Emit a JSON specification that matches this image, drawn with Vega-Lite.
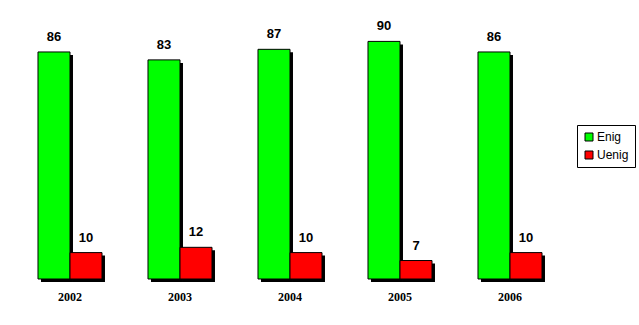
{
  "$schema": "https://vega.github.io/schema/vega-lite/v6.json",
  "autosize": {"type": "none"},
  "padding": {"left": 15, "top": 15, "right": 74, "bottom": 46},
  "width": 550,
  "height": 264,
  "background": "white",
  "data": {
    "values": [
      {"year": "2002", "series": "Enig", "value": 86},
      {"year": "2002", "series": "Uenig", "value": 10},
      {"year": "2003", "series": "Enig", "value": 83},
      {"year": "2003", "series": "Uenig", "value": 12},
      {"year": "2004", "series": "Enig", "value": 87},
      {"year": "2004", "series": "Uenig", "value": 10},
      {"year": "2005", "series": "Enig", "value": 90},
      {"year": "2005", "series": "Uenig", "value": 7},
      {"year": "2006", "series": "Enig", "value": 86},
      {"year": "2006", "series": "Uenig", "value": 10}
    ]
  },
  "encoding": {
    "x": {
      "field": "year", "type": "nominal", "title": null,
      "scale": {"paddingInner": 0.418, "paddingOuter": 0.209},
      "axis": {"domain": false, "ticks": false, "labelAngle": 0, "labelFont": "Liberation Serif", "labelFontWeight": "bold", "labelFontSize": 12, "labelColor": "black", "labelPadding": 12}
    },
    "y": {"field": "value", "type": "quantitative", "scale": {"domain": [0, 100]}, "axis": null}
  },
  "layer": [
    {
      "mark": {"type": "bar", "color": "black", "yOffset": 3},
      "encoding": {
        "xOffset": {"field": "series", "type": "nominal", "scale": {"range": [3, 67]}}
      }
    },
    {
      "encoding": {
        "xOffset": {"field": "series", "type": "nominal", "scale": {"paddingInner": 0, "paddingOuter": 0}}
      },
      "layer": [
        {
          "mark": {"type": "bar", "stroke": "black", "strokeWidth": 1},
          "encoding": {
            "color": {
              "field": "series", "type": "nominal",
              "scale": {"domain": ["Enig", "Uenig"], "range": ["#00FF00", "#FF0000"]},
              "legend": {
                "title": null, "orient": "none", "legendX": 562, "legendY": 110,
                "strokeColor": "black", "padding": 6, "fillColor": "white",
                "symbolType": "square", "symbolSize": 64, "symbolStrokeColor": "black", "symbolStrokeWidth": 1,
                "labelFont": "Liberation Sans", "labelFontSize": 12, "labelColor": "black",
                "rowPadding": 6, "labelOffset": 2
              }
            }
          }
        },
        {
          "mark": {"type": "text", "dy": -11, "baseline": "alphabetic", "font": "Liberation Sans", "fontSize": 13, "fontWeight": "bold", "color": "black"},
          "encoding": {"text": {"field": "value", "type": "quantitative"}}
        }
      ]
    }
  ],
  "resolve": {"scale": {"xOffset": "independent"}},
  "config": {"view": {"stroke": null}}
}
